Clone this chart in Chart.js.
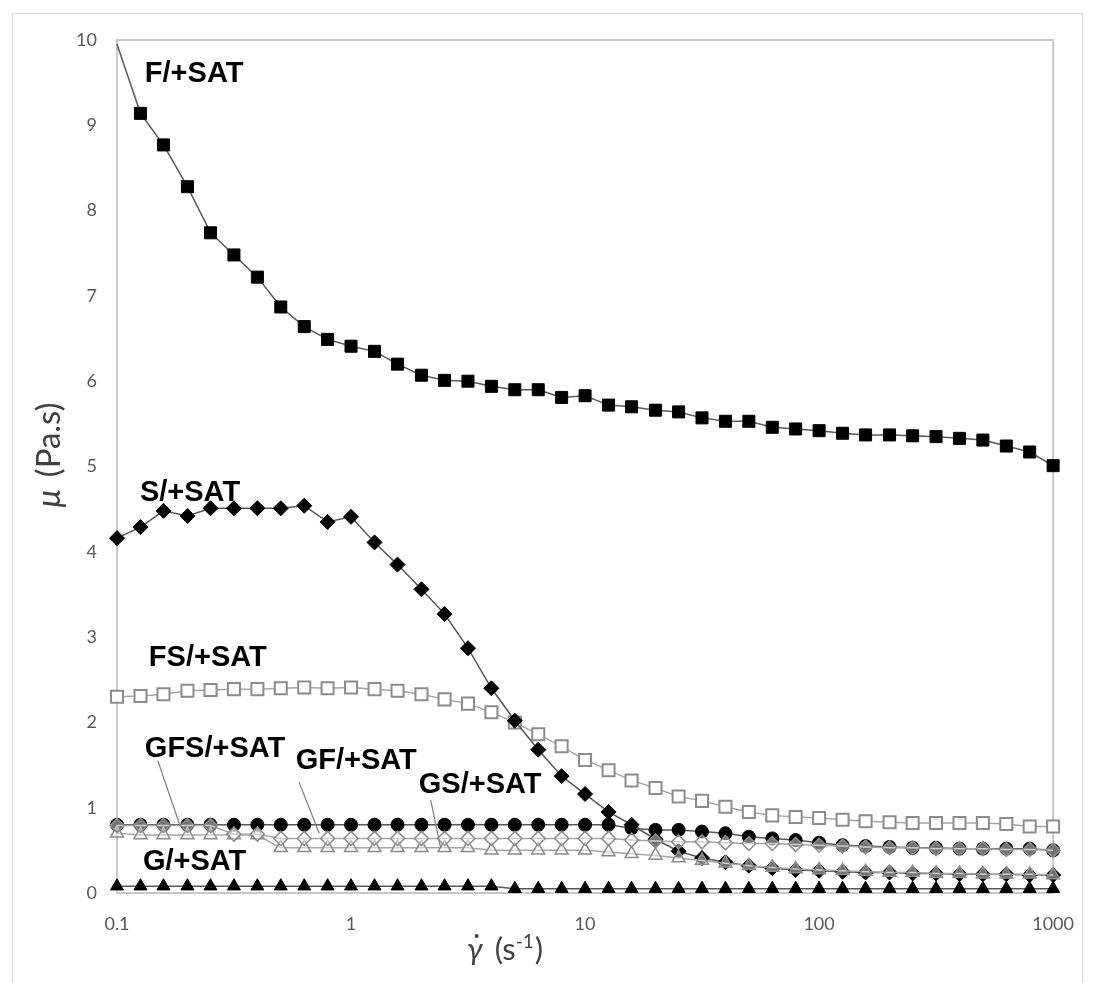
<!DOCTYPE html>
<html><head><meta charset="utf-8">
<script src="https://cdn.jsdelivr.net/npm/chart.js@4.4.0/dist/chart.umd.min.js"></script>
<style>
html,body{margin:0;padding:0;background:#fff;}
#frame{position:absolute;left:12px;top:13px;width:1071px;height:990px;border:1px solid #d9d9d9;box-sizing:border-box;}
#wrap{position:absolute;left:0;top:0;width:1094px;height:983px;}
</style></head><body>
<div id="frame"></div>
<div id="wrap"><canvas id="c" width="1094" height="983"></canvas></div>
<script>
// shear rate (s-1)
const shearRates = [0.1,0.126,0.158,0.2,0.251,0.316,0.398,0.501,0.631,0.794,
  1,1.26,1.58,2,2.51,3.16,3.98,5.01,6.31,7.94,
  10,12.6,15.8,20,25.1,31.6,39.8,50.1,63.1,79.4,
  100,126,158,200,251,316,398,501,631,794,1000];

const F_SAT = [9.95,9.14,8.77,8.28,7.74,7.48,7.22,6.87,6.64,6.49,
  6.41,6.35,6.20,6.07,6.01,6.00,5.94,5.90,5.90,5.81,
  5.83,5.72,5.70,5.66,5.64,5.57,5.53,5.53,5.46,5.44,
  5.42,5.39,5.37,5.37,5.36,5.35,5.33,5.31,5.24,5.17,5.01];

const S_SAT = [4.16,4.29,4.48,4.42,4.51,4.51,4.51,4.51,4.54,4.35,
  4.41,4.11,3.85,3.56,3.27,2.87,2.40,2.02,1.68,1.37,
  1.16,0.95,0.80,0.63,0.49,0.41,0.36,0.32,0.29,0.27,
  0.26,0.25,0.24,0.24,0.23,0.23,0.22,0.22,0.22,0.21,0.21];

const FS_SAT = [2.30,2.31,2.33,2.37,2.38,2.39,2.39,2.40,2.41,2.40,
  2.41,2.39,2.37,2.33,2.27,2.22,2.12,2.00,1.86,1.72,
  1.56,1.44,1.32,1.23,1.13,1.08,1.01,0.95,0.91,0.89,
  0.88,0.86,0.84,0.83,0.82,0.82,0.82,0.82,0.81,0.78,0.78];

const GFS_SAT = [0.80,0.80,0.80,0.80,0.80,0.80,0.80,0.80,0.80,0.80,
  0.80,0.80,0.80,0.80,0.80,0.80,0.80,0.80,0.80,0.80,
  0.80,0.80,0.76,0.74,0.74,0.72,0.70,0.66,0.64,0.62,
  0.59,0.56,0.55,0.54,0.53,0.53,0.52,0.52,0.52,0.52,0.50];

const GF_SAT = [0.79,0.79,0.79,0.79,0.79,0.69,0.69,0.64,0.64,0.64,
  0.64,0.64,0.64,0.64,0.64,0.64,0.64,0.64,0.64,0.64,
  0.64,0.64,0.62,0.61,0.60,0.60,0.59,0.58,0.58,0.57,
  0.56,0.55,0.54,0.53,0.53,0.52,0.52,0.52,0.51,0.51,0.50];

const GS_SAT = [0.70,0.68,0.68,0.68,0.68,0.68,0.68,0.53,0.53,0.53,
  0.53,0.53,0.53,0.53,0.53,0.53,0.50,0.50,0.50,0.50,
  0.50,0.48,0.46,0.44,0.41,0.38,0.35,0.32,0.30,0.28,
  0.27,0.26,0.25,0.24,0.24,0.23,0.23,0.22,0.22,0.22,0.21];

const G_SAT = [0.08,0.08,0.08,0.08,0.08,0.08,0.08,0.08,0.08,0.08,
  0.08,0.08,0.08,0.08,0.08,0.08,0.08,0.05,0.05,0.05,
  0.05,0.05,0.05,0.05,0.05,0.05,0.05,0.05,0.05,0.05,
  0.05,0.05,0.05,0.05,0.05,0.05,0.05,0.05,0.05,0.05,0.05];

const xTickValues = [0.1,1,10,100,1000];
const xTickLabels = ['0.1','1','10','100','1000'];
const yTickValues = [0,1,2,3,4,5,6,7,8,9,10];

// series labels: [text, x (s-1), y (Pa.s)] anchor = left/baseline
const seriesLabels = [
  ['F/+SAT', 0.1315, 9.51],
  ['S/+SAT', 0.1253, 4.60],
  ['FS/+SAT', 0.1368, 2.66],
  ['GFS/+SAT', 0.1315, 1.60],
  ['GF/+SAT', 0.58, 1.45],
  ['GS/+SAT', 1.947, 1.17],
  ['G/+SAT', 0.129, 0.27]
];
// leader lines: [x1, y1, x2, y2] in data units
const leaderLines = [
  [0.1494, 1.55, 0.1854, 0.80],
  [0.600, 1.30, 0.731, 0.70],
  [2.19, 1.09, 2.415, 0.53]
];

const pts = arr => arr.map((v,i)=>({x: shearRates[i], y: v}));
const BLK = '#000000', BLKLINE = '#595959', GRYLINE = '#a6a6a6', GRYMK = '#8c8c8c';
const TW = 'rgba(255,255,255,0.45)';

const datasets = [
  {label:'F/+SAT', data:pts(F_SAT), pointStyle:'rect', pointRadius:(c)=>c.dataIndex===0?0:8.5,
   backgroundColor:BLK, pointBorderColor:BLK, pointBorderWidth:1, borderColor:BLKLINE, borderWidth:1.5, order:5},
  {label:'S/+SAT', data:pts(S_SAT), pointStyle:'rectRot', pointRadius:7.5,
   backgroundColor:BLK, pointBorderColor:BLK, pointBorderWidth:1, borderColor:BLKLINE, borderWidth:1.5, order:4},
  {label:'FS/+SAT', data:pts(FS_SAT), pointStyle:'rect', pointRadius:8.5,
   backgroundColor:'#ffffff', pointBorderColor:GRYMK, pointBorderWidth:2, borderColor:GRYLINE, borderWidth:1.5, order:6},
  {label:'GFS/+SAT', data:pts(GFS_SAT), pointStyle:'circle', pointRadius:6.5,
   backgroundColor:BLK, pointBorderColor:BLK, pointBorderWidth:1, borderColor:BLKLINE, borderWidth:1.5, order:7},
  {label:'GF/+SAT', data:pts(GF_SAT), pointStyle:'rectRot', pointRadius:7,
   backgroundColor:TW, pointBorderColor:GRYMK, pointBorderWidth:1.5, borderColor:GRYLINE, borderWidth:1.5, order:1},
  {label:'GS/+SAT', data:pts(GS_SAT), pointStyle:'triangle', pointRadius:7.5,
   backgroundColor:TW, pointBorderColor:GRYMK, pointBorderWidth:1.5, borderColor:GRYLINE, borderWidth:1.5, order:2},
  {label:'G/+SAT', data:pts(G_SAT), pointStyle:'triangle', pointRadius:7.5,
   backgroundColor:BLK, pointBorderColor:BLK, pointBorderWidth:1, borderColor:BLKLINE, borderWidth:1.5, order:3}
].map(d=>Object.assign({pointBackgroundColor:d.backgroundColor, fill:false, tension:0, clip:false}, d));

const framePlugin = {
  id:'frame',
  beforeDatasetsDraw(chart){
    const {ctx, chartArea:a} = chart;
    ctx.save();
    ctx.strokeStyle = '#c8c8c8';
    ctx.lineWidth = 2;
    ctx.strokeRect(a.left, a.top, a.right-a.left, a.bottom-a.top);
    ctx.restore();
  }
};

const annotPlugin = {
  id:'annot',
  afterDatasetsDraw(chart){
    const {ctx, scales:{x, y}} = chart;
    ctx.save();
    ctx.strokeStyle = '#7f7f7f';
    ctx.lineWidth = 1.2;
    leaderLines.forEach(l=>{
      ctx.beginPath();
      ctx.moveTo(x.getPixelForValue(l[0]), y.getPixelForValue(l[1]));
      ctx.lineTo(x.getPixelForValue(l[2]), y.getPixelForValue(l[3]));
      ctx.stroke();
    });
    ctx.fillStyle = '#000';
    ctx.font = 'bold 29px "Liberation Sans", Arial, sans-serif';
    ctx.textAlign = 'left';
    ctx.textBaseline = 'alphabetic';
    seriesLabels.forEach(s=>{
      ctx.fillText(s[0], x.getPixelForValue(s[1]), y.getPixelForValue(s[2]));
    });
    ctx.restore();
  },
  afterDraw(chart){
    const {ctx, chartArea:a} = chart;
    ctx.save();
    ctx.fillStyle = '#404040';
    // x axis title
    let bx = a.left + 350, by = a.bottom + 67;
    ctx.textBaseline = 'alphabetic';
    ctx.textAlign = 'left';
    ctx.font = 'italic 31px Lato, sans-serif';
    ctx.fillText('\u03B3', bx, by);
    const gw = ctx.measureText('\u03B3').width;
    ctx.beginPath();
    ctx.arc(bx + gw*0.62, by - 24, 2, 0, Math.PI*2);
    ctx.fill();
    let cx = bx + gw + 12;
    ctx.font = '31px Lato, sans-serif';
    ctx.fillText('(s', cx, by);
    cx += ctx.measureText('(s').width;
    ctx.font = '19px Lato, sans-serif';
    ctx.fillText('-1', cx, by - 12);
    cx += ctx.measureText('-1').width + 1;
    ctx.font = '31px Lato, sans-serif';
    ctx.fillText(')', cx, by);
    // y axis title
    ctx.translate(60, 455);
    ctx.rotate(-Math.PI/2);
    ctx.textAlign = 'left';
    const mu = '\u03BC';
    const t2 = '(Pa.s)';
    ctx.font = '33px Lato, sans-serif';
    const w2 = ctx.measureText(t2).width;
    ctx.font = 'italic 33px Lato, sans-serif';
    const w1 = ctx.measureText(mu).width;
    const gap = 12;
    const start = -(w1+gap+w2)/2;
    ctx.fillText(mu, start, 0);
    ctx.font = '33px Lato, sans-serif';
    ctx.fillText(t2, start + w1 + gap, 0);
    ctx.restore();
  }
};

new Chart(document.getElementById('c'), {
  type:'line',
  data:{datasets},
  options:{
    responsive:false, animation:false, devicePixelRatio:1,
    layout:{padding:{left:0, right:37, top:40, bottom:0}},
    plugins:{legend:{display:false}, tooltip:{enabled:false}},
    scales:{
      x:{type:'logarithmic', min:0.1, max:1000,
        afterBuildTicks:(s)=>{ s.ticks = xTickValues.map(v=>({value:v})); },
        afterFit:(s)=>{ s.height = 90; },
        grid:{display:false, drawTicks:false}, border:{display:false},
        ticks:{autoSkip:false, maxRotation:0, padding:20, color:'#595959', font:{family:'Lato', size:18},
          callback:(v)=>{ const i = xTickValues.indexOf(v); return i>=0 ? xTickLabels[i] : ''; }}
      },
      y:{type:'linear', min:0, max:10,
        afterBuildTicks:(s)=>{ s.ticks = yTickValues.map(v=>({value:v})); },
        afterFit:(s)=>{ s.width = 117; },
        grid:{display:false, drawTicks:false}, border:{display:false},
        ticks:{padding:20, color:'#595959', font:{family:'Lato', size:18}}
      }
    }
  },
  plugins:[framePlugin, annotPlugin]
});
</script>
</body></html>
